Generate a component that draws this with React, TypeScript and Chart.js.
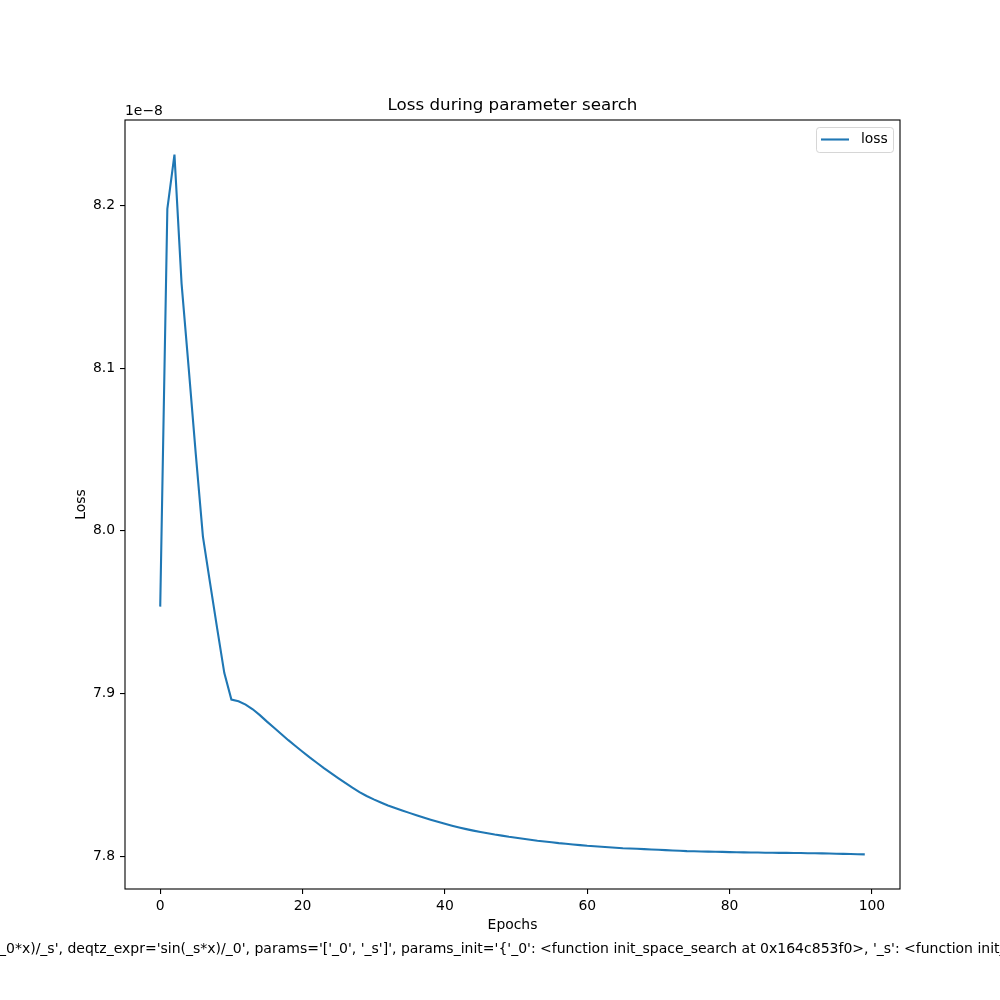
import React, { useEffect, useRef } from "react";
import { Chart, registerables } from "chart.js";

Chart.register(...registerables);

// Loss values per epoch, in units of 1e-8
const loss: number[] = [
  7.9534, 8.1980, 8.2313, 8.1520, 8.1000, 8.0470, 7.9965, 7.9680, 7.9400, 7.9127,
  7.8963, 7.8952, 7.8932, 7.8903, 7.8867, 7.8827, 7.8789, 7.8751, 7.8713, 7.8677,
  7.8642, 7.8607, 7.8574, 7.8541, 7.8510, 7.8480, 7.8450, 7.8421, 7.8394, 7.8370,
  7.8349, 7.8330, 7.8312, 7.8296, 7.8281, 7.8266, 7.8251, 7.8237, 7.8224, 7.8211,
  7.8199, 7.8187, 7.8176, 7.8166, 7.8157, 7.8149, 7.8141, 7.8133, 7.8126, 7.8119,
  7.8113, 7.8107, 7.8101, 7.8095, 7.8090, 7.8085, 7.8080, 7.8076, 7.8072, 7.8068,
  7.8064, 7.8061, 7.8058, 7.8055, 7.8052, 7.8049, 7.8047, 7.8045, 7.8043, 7.8041,
  7.8039, 7.8037, 7.8035, 7.8033, 7.8031, 7.8030, 7.8029, 7.8028, 7.8027, 7.8026,
  7.8025, 7.8024, 7.8023, 7.8022, 7.8022, 7.8021, 7.8021, 7.8020, 7.8020, 7.8019,
  7.8019, 7.8018, 7.8018, 7.8017, 7.8016, 7.8015, 7.8014, 7.8013, 7.8012, 7.8011,
];
const epochs: number[] = loss.map((_, i) => i);

const xTicks: number[] = [0, 20, 40, 60, 80, 100];
const yTicks: number[] = [7.8, 7.9, 8.0, 8.1, 8.2];

const titleText = "Loss during parameter search";
const xLabel = "Epochs";
const yLabel = "Loss";
const offsetText = "1e\u22128";
const legendLabel = "loss";
const footnote =
  "_0*x)/_s', deqtz_expr='sin(_s*x)/_0', params='['_0', '_s']', params_init='{'_0': <function init_space_search at 0x164c853f0>, '_s': <function init_linear_search>}'";

const FONT = "'DejaVu Sans', sans-serif";
const LINE = "#1f77b4";

const decorPlugin = {
  id: "decor",
  afterDraw(chart: any) {
    const ctx = chart.ctx as CanvasRenderingContext2D;
    const a = chart.chartArea;
    ctx.save();
    // spines
    ctx.strokeStyle = "#000";
    ctx.lineWidth = 1.1;
    ctx.strokeRect(a.left, a.top, a.right - a.left, a.bottom - a.top);

    ctx.fillStyle = "#000";
    // title
    ctx.font = `16.7px ${FONT}`;
    ctx.textAlign = "center";
    ctx.textBaseline = "middle";
    ctx.fillText(titleText, (a.left + a.right) / 2, 106);

    // offset text
    ctx.font = `13.9px ${FONT}`;
    ctx.textAlign = "left";
    ctx.fillText(offsetText, a.left, 111);

    // x label
    ctx.textAlign = "center";
    ctx.fillText(xLabel, (a.left + a.right) / 2, 925);

    // y label
    ctx.save();
    ctx.translate(81, (a.top + a.bottom) / 2);
    ctx.rotate(-Math.PI / 2);
    ctx.fillText(yLabel, 0, 0);
    ctx.restore();

    // footnote
    ctx.font = `14px ${FONT}`;
    ctx.textAlign = "left";
    ctx.fillText(footnote, -1, 949);

    // legend
    ctx.font = `13.9px ${FONT}`;
    const lx = 816, ly = 127, lw = 77, lh = 25;
    ctx.fillStyle = "rgba(255,255,255,0.8)";
    ctx.strokeStyle = "rgba(204,204,204,0.8)";
    ctx.lineWidth = 1;
    ctx.beginPath();
    (ctx as any).roundRect(lx + 0.5, ly + 0.5, lw, lh, 3);
    ctx.fill();
    ctx.stroke();
    ctx.strokeStyle = LINE;
    ctx.lineWidth = 2.1;
    ctx.beginPath();
    ctx.moveTo(821, 139.5);
    ctx.lineTo(849, 139.5);
    ctx.stroke();
    ctx.fillStyle = "#000";
    ctx.textAlign = "left";
    ctx.fillText(legendLabel, 861, 139.5);
    ctx.restore();
  },
};

export default function App() {
  const ref = useRef<HTMLCanvasElement | null>(null);
  useEffect(() => {
    if (!ref.current) return;
    const chart = new Chart(ref.current, {
      type: "line",
      data: {
        datasets: [
          {
            label: legendLabel,
            data: epochs.map((e, i) => ({ x: e, y: loss[i] })),
            borderColor: LINE,
            borderWidth: 2.1,
            pointRadius: 0,
            tension: 0,
            fill: false,
          },
        ],
      },
      options: {
        animation: false,
        responsive: false,
        devicePixelRatio: 1,
        layout: { padding: { left: 0, top: 120, right: 100, bottom: 0 } },
        plugins: {
          legend: { display: false },
          title: { display: false },
          tooltip: { enabled: false },
        },
        scales: {
          x: {
            type: "linear",
            min: -4.95,
            max: 103.95,
            afterBuildTicks: (s: any) => {
              s.ticks = xTicks.map((v) => ({ value: v }));
            },
            afterFit: (s: any) => {
              s.height = 111;
            },
            border: { display: false },
            grid: {
              drawOnChartArea: false,
              drawTicks: true,
              tickLength: 5,
              color: "#000",
              lineWidth: 1.1,
            },
            ticks: {
              color: "#000",
              padding: 4,
              maxRotation: 0,
              font: { family: FONT, size: 13.9 },
              callback: (v: any) => String(v),
            },
          },
          y: {
            type: "linear",
            min: 7.7798,
            max: 8.2526,
            afterBuildTicks: (s: any) => {
              s.ticks = yTicks.map((v) => ({ value: v }));
            },
            afterFit: (s: any) => {
              s.width = 125;
            },
            border: { display: false },
            grid: {
              drawOnChartArea: false,
              drawTicks: true,
              tickLength: 5,
              color: "#000",
              lineWidth: 1.1,
            },
            ticks: {
              color: "#000",
              padding: 5,
              font: { family: FONT, size: 13.9 },
              callback: (v: any) => Number(v).toFixed(1),
            },
          },
        },
      },
      plugins: [decorPlugin],
    });
    return () => chart.destroy();
  }, []);
  return (
    <div style={{ position: "absolute", left: 0, top: 0, width: 1000, height: 1000, background: "#fff" }}>
      <canvas ref={ref} width={1000} height={1000} style={{ display: "block" }} />
    </div>
  );
}
